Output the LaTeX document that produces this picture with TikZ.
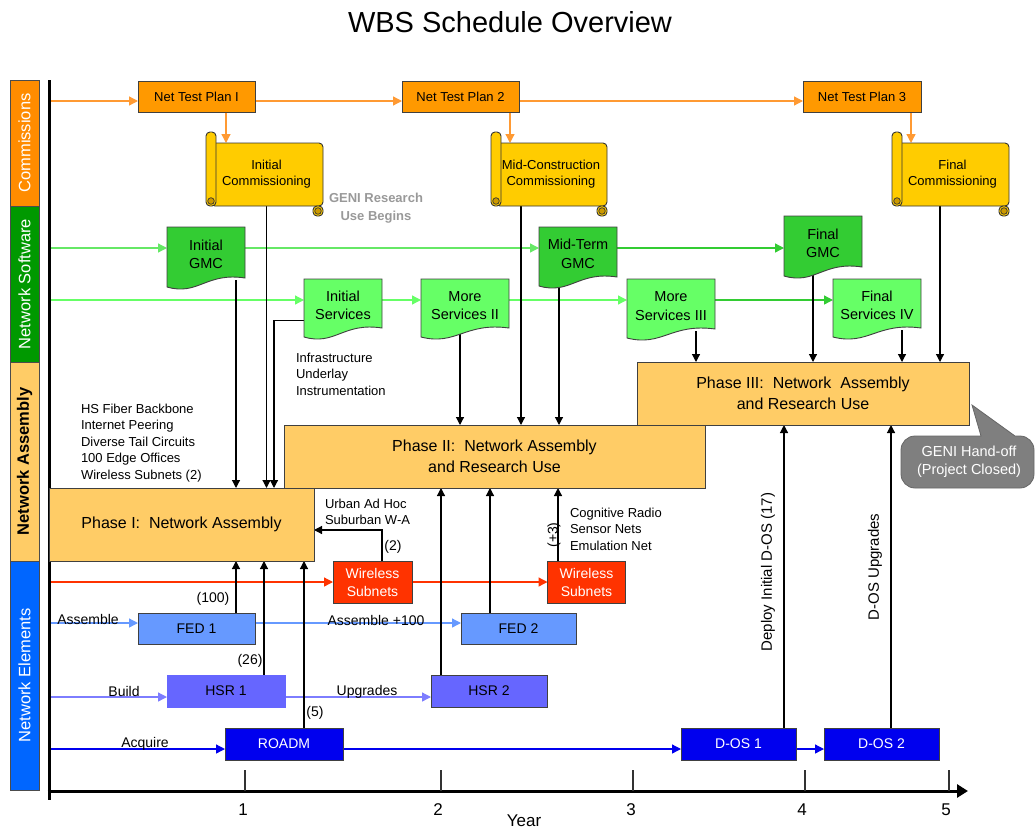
\documentclass[tikz,border=0pt]{standalone}
\usepackage{fontspec}
\setmainfont{Liberation Sans}
\usetikzlibrary{arrows.meta,backgrounds}
\definecolor{cNtp}{HTML}{FF9900}
\definecolor{cOrLine}{HTML}{FF9A33}
\definecolor{cScroll}{HTML}{FFCC00}
\definecolor{cCurl}{HTML}{CC9900}
\definecolor{cGmc}{HTML}{33CC33}
\definecolor{cSrv}{HTML}{66FF66}
\definecolor{cGLine}{HTML}{66E866}
\definecolor{cGLineD}{HTML}{33CC33}
\definecolor{cPhase}{HTML}{FFCC66}
\definecolor{cRed}{HTML}{FF3300}
\definecolor{cFed}{HTML}{6699FF}
\definecolor{cHsr}{HTML}{6666FF}
\definecolor{cRoadm}{HTML}{0000EE}
\definecolor{cLaneCom}{HTML}{FF8C00}
\definecolor{cLaneSw}{HTML}{009900}
\definecolor{cLaneEl}{HTML}{0066FF}
\definecolor{cGeni}{HTML}{7F7F7F}
\definecolor{cGray}{HTML}{999999}
\newcommand\fsz[2]{\fontsize{#1}{#2}\selectfont}
\tikzset{
  every node/.style={inner sep=0pt, outer sep=0pt},
  bx/.style={draw=black!75, line width=0.9pt, align=center},
  lane/.style={draw=black!70, line width=0.8pt, minimum height=29pt, font=\fsz{16.5}{20}},
  ntpbox/.style={bx, fill=cNtp, font=\fsz{13}{16}},
  phasebox/.style={bx, fill=cPhase, font=\fsz{16}{21}},
  docnode/.style={align=center, font=\fsz{14.5}{18.5}},
  scrollnode/.style={align=center, font=\fsz{13}{16}},
  elbox/.style={bx, font=\fsz{14}{18}},
  lbl/.style={font=\fsz{13}{16.5}, align=left},
  lblb/.style={font=\fsz{14}{17}},
  conn/.style={draw=black, line width=1.2pt, -{Triangle[length=8pt,width=8pt]}},
  oarrow/.style={draw=cOrLine, line width=1.3pt, -{Triangle[length=9pt,width=9pt]}},
  garrow/.style={draw=cGLine, line width=1.3pt, -{Triangle[length=9pt,width=9pt]}},
  gdarrow/.style={draw=cGLineD, line width=1.3pt, -{Triangle[length=9pt,width=9pt]}},
  sarrow/.style={draw=cSrv, line width=1.3pt, -{Triangle[length=9pt,width=9pt]}},
  rarrow/.style={draw=cRed, line width=1.3pt, -{Triangle[length=9pt,width=9pt]}},
  farrow/.style={draw=cFed, line width=1.3pt, -{Triangle[length=9pt,width=9pt]}},
  harrow/.style={draw=cHsr!85, line width=1.3pt, -{Triangle[length=9pt,width=9pt]}},
  aarrow/.style={draw=cRoadm, line width=1.3pt, -{Triangle[length=9pt,width=9pt]}},
  scrollsty/.style={fill=cScroll, draw=black!80, line width=0.9pt},
  curl/.style={fill=cCurl, draw=black!80, line width=0.7pt},
}
% document shape: name, x1, ytop, x2, ybottom, fill, text
\newcommand\docshape[7]{%
  \pgfmathsetmacro\dw{#4-#2}%
  \pgfmathsetmacro\dh{#5-#3}%
  \pgfmathsetmacro\ca{#2+0.5*\dw}%
  \pgfmathsetmacro\cb{#2+0.4*\dw}%
  \pgfmathsetmacro\cx{(#2+#4)/2}%
  \pgfmathsetmacro\cy{(#3+#5)/2+2}%
  \filldraw[fill=#6, draw=black!75, line width=0.9pt] (#2,#3) -- (#4,#3) -- (#4,#5)
    .. controls (\ca,#5-6) and (\cb,#5+18) .. (#2,#5+9) -- cycle;
  \node[docnode, minimum width=\dw pt, minimum height=\dh pt] (#1) at (\cx,\cy) {#7};
}
% scroll shape: name, x1, ytop, x2, ybottom, text
\newcommand\scrollshape[6]{%
  \pgfmathsetmacro\sw{#4-#2}%
  \pgfmathsetmacro\sh{#5-#3}%
  \pgfmathsetmacro\sx{(#2+#4)/2}%
  \pgfmathsetmacro\sy{(#3+#5)/2}%
  \filldraw[scrollsty, rounded corners=4pt] (#2+5,#3) rectangle (#4,#5);
  \filldraw[scrollsty, rounded corners=4pt] (#4-10,#5) rectangle (#4,#5+10);
  \filldraw[scrollsty, rounded corners=4pt] (#2,#3-11) rectangle (#2+10,#5);
  \filldraw[curl] (#2+5,#5-5) circle (3.3pt);
  \filldraw[curl] (#4-5,#5+5) circle (3.3pt);
  \node[scrollnode, minimum width=\sw pt, minimum height=\sh pt] (#1) at (\sx+2,\sy) {#6};
}
\begin{document}
\begin{tikzpicture}[x=1pt,y=-1pt]
\useasboundingbox (0,0) rectangle (1036,830);

% title
\node[font=\fsz{29}{34}] (title) at (510,22) {WBS Schedule Overview};

% lane labels
\node[lane, fill=cLaneCom, text=white, minimum width=126pt, rotate=90] (lcom) at (24.5,143) {Commissions};
\node[lane, fill=cLaneSw, text=white, minimum width=156pt, rotate=90] (lsw) at (24.5,284) {Network Software};
\node[lane, fill=cPhase, text=black, minimum width=199pt, rotate=90, font=\fsz{16.5}{20}\bfseries] (lasm) at (24.5,461.5) {Network Assembly};
\node[lane, fill=cLaneEl, text=white, minimum width=229pt, rotate=90] (lel) at (24.5,675.5) {Network Elements};

% axes
\draw[line width=3pt] (49,80) -- (49,800);
\draw[line width=3pt, -{Triangle[length=11pt,width=13pt]}] (47.5,791) -- (968,791);
\foreach \tx in {245,441,633,805,949} \draw[line width=1.2pt, black!80] (\tx,770) -- (\tx,791);
\node[font=\fsz{17}{20}] (y1) at (243,810) {1};
\node[font=\fsz{17}{20}] (y2) at (438,810) {2};
\node[font=\fsz{17}{20}] (y3) at (631,810) {3};
\node[font=\fsz{17}{20}] (y4) at (802,810) {4};
\node[font=\fsz{17}{20}] (y5) at (946,810) {5};
\node[font=\fsz{17}{20}] (year) at (524,821) {Year};

% commissions
\node[ntpbox, minimum width=117pt, minimum height=31pt] (ntp1) at (196.5,96.5) {Net Test Plan I};
\node[ntpbox, minimum width=117pt, minimum height=31pt] (ntp2) at (460.5,96.5) {Net Test Plan 2};
\node[ntpbox, minimum width=118pt, minimum height=31pt] (ntp3) at (862,96.5) {Net Test Plan 3};
\scrollshape{comm1}{206}{143}{323}{206}{Initial\\Commissioning}
\scrollshape{comm2}{491}{143}{607}{206}{Mid-Construction\\Commissioning}
\scrollshape{comm3}{892}{143}{1009}{206}{Final\\Commissioning}
\node[font=\fsz{13}{18}\bfseries, text=cGray, align=center] (geniuse) at (376,208) {GENI Research\\Use Begins};

% software
\docshape{gmc1}{167}{227}{245}{278}{cGmc}{Initial\\GMC}
\docshape{gmc2}{539}{227}{617}{277}{cGmc}{Mid-Term\\GMC}
\docshape{gmc3}{784}{216}{862}{267}{cGmc}{Final\\GMC}
\docshape{srv1}{304}{279}{382}{328}{cSrv}{Initial\\Services}
\docshape{srv2}{421}{279}{509}{328}{cSrv}{More\\Services II}
\docshape{srv3}{627}{279}{715}{329}{cSrv}{More\\Services III}
\docshape{srv4}{833}{279}{921}{328}{cSrv}{Final\\Services IV}

% phases
\node[phasebox, minimum width=421pt, minimum height=63pt] (ph2) at (494.5,456.5) {Phase II:\ \ Network Assembly\\and Research Use};
\node[phasebox, minimum width=265pt, minimum height=73pt] (ph1) at (181.5,524.5) {Phase I:\ \ Network Assembly};
\node[phasebox, minimum width=332pt, minimum height=63pt] (ph3) at (803,393.5) {Phase III:\ \ Network\ \ Assembly\\and Research Use};

% callout
\filldraw[fill=cGeni, draw=black!60, line width=0.8pt] (950,436) -- (981,436) -- (972,405) -- (1015,436)
  [rounded corners=14pt] -- (1034,436) -- (1034,488) -- (901,488) -- (901,436) -- (950,436);
\node[font=\fsz{14.5}{18}, text=white, align=center] (geni) at (969,462) {GENI Hand-off\\(Project Closed)};

% element boxes
\node[elbox, fill=cRed, text=white, minimum width=79pt, minimum height=42pt] (ws1) at (372.5,582) {Wireless\\Subnets};
\node[elbox, fill=cRed, text=white, minimum width=78pt, minimum height=42pt] (ws2) at (586.5,582) {Wireless\\Subnets};
\node[elbox, fill=cFed, minimum width=117pt, minimum height=31pt] (fed1) at (196.5,628.5) {FED 1};
\node[elbox, fill=cFed, minimum width=115pt, minimum height=31pt] (fed2) at (518.5,628.5) {FED 2};
\node[elbox, fill=cHsr, draw=cHsr, minimum width=118pt, minimum height=32pt] (hsr1) at (226,691) {HSR 1};
\node[elbox, fill=cHsr, minimum width=116pt, minimum height=32pt] (hsr2) at (489,691) {HSR 2};
\node[elbox, fill=cRoadm, text=white, minimum width=118pt, minimum height=32pt] (roadm) at (284,744) {ROADM};
\node[elbox, fill=cRoadm, text=white, minimum width=115pt, minimum height=32pt] (dos1) at (738.5,744) {D-OS 1};
\node[elbox, fill=cRoadm, text=white, minimum width=115pt, minimum height=32pt] (dos2) at (881.5,744) {D-OS 2};

% labels
\node[lbl, anchor=west] (hslist) at (81,443) {HS Fiber Backbone\\Internet Peering\\Diverse Tail Circuits\\100 Edge Offices\\Wireless Subnets (2)};
\node[lbl, anchor=west] (infra) at (296,374) {Infrastructure\\Underlay\\Instrumentation};
\node[lbl, anchor=west] (urban) at (325,512) {Urban Ad Hoc\\Suburban W-A};
\node[lbl, anchor=west] (cogn) at (570,529) {Cognitive Radio\\Sensor Nets\\Emulation Net};
\node[lblb] (l2) at (393,547) {(2)};
\node[lblb, rotate=90] (lp3) at (554,535) {(+3)};
\node[lblb] (l100) at (213,599) {(100)};
\node[lblb] (l26) at (250,661) {(26)};
\node[lblb] (l5) at (315,713) {(5)};
\node[lblb] (lassem) at (88,619) {Assemble};
\node[lblb] (lassem2) at (376,620) {Assemble +100};
\node[lblb] (lbuild) at (124,691) {Build};
\node[lblb] (lupg) at (367,692) {Upgrades};
\node[lblb] (lacq) at (145,744) {Acquire};
\node[font=\fsz{15}{18}, rotate=90] (ldep) at (768,572) {Deploy Initial D-OS (17)};
\node[font=\fsz{15}{18}, rotate=90] (lupg2) at (875,567) {D-OS Upgrades};

\begin{pgfonlayer}{background}
% row coordinates on the time bar
\coordinate (oc) at (49,101);
\coordinate (gc) at (49,248);
\coordinate (sc) at (49,300);
\coordinate (rc) at (49,582);
\coordinate (fc) at (49,623);
\coordinate (hc) at (49,697);
\coordinate (ac) at (49,749);
% commissions row
\draw[oarrow] (oc) -- (ntp1.west |- oc);
\draw[oarrow] (ntp1.east |- oc) -- (ntp2.west |- oc);
\draw[oarrow] (ntp2.east |- oc) -- (ntp3.west |- oc);
\draw[oarrow] ([xshift=29.5pt]ntp1.south) -- ([xshift=29.5pt]ntp1.south |- comm1.north);
\draw[oarrow] ([xshift=49.5pt]ntp2.south) -- ([xshift=49.5pt]ntp2.south |- comm2.north);
\draw[oarrow] ([xshift=49pt]ntp3.south) -- ([xshift=49pt]ntp3.south |- comm3.north);
% software rows
\draw[garrow] (gc) -- (gmc1.west |- gc);
\draw[garrow] (gmc1.east |- gc) -- (gmc2.west |- gc);
\draw[gdarrow] (gmc2.east |- gc) -- (gmc3.west |- gc);
\draw[sarrow] (sc) -- (srv1.west |- sc);
\draw[sarrow] (srv1.east |- sc) -- (srv2.west |- sc);
\draw[sarrow] (srv2.east |- sc) -- (srv3.west |- sc);
\draw[gdarrow] (srv3.east |- sc) -- (srv4.west |- sc);
% element rows
\draw[rarrow] (rc) -- (ws1.west |- rc);
\draw[rarrow] (ws1.east |- rc) -- (ws2.west |- rc);
\draw[farrow] (fc) -- (fed1.west |- fc);
\draw[farrow] (fed1.east |- fc) -- (fed2.west |- fc);
\draw[harrow] (hc) -- (hsr1.west |- hc);
\draw[harrow] (hsr1.east |- hc) -- (hsr2.west |- hc);
\draw[aarrow] (ac) -- (roadm.west |- ac);
\draw[aarrow] (roadm.east |- ac) -- (dos1.west |- ac);
\draw[aarrow] (dos1.east |- ac) -- (dos2.west |- ac);
% into Phase I
\draw[conn] ([xshift=30pt]gmc1.south) -- ([xshift=30pt]gmc1.south |- ph1.north);
\draw[conn] (comm1.south) -- (comm1.south |- ph1.north);
\draw[conn] ([yshift=-15pt]srv1.west) -| ([xshift=92.5pt]ph1.north);
\draw[conn] ([xshift=39.5pt]fed1.north) -- ([xshift=39.5pt]fed1.north |- ph1.south);
\draw[conn] ([xshift=38pt]hsr1.north) -- ([xshift=38pt]hsr1.north |- ph1.south);
\draw[conn] ([xshift=20pt]roadm.north) -- ([xshift=20pt]roadm.north |- ph1.south);
\draw[conn] ([xshift=9.5pt]ws1.north) |- ([yshift=-5.5pt]ph1.east);
% into Phase II
\draw[conn] ([xshift=-5pt]srv2.south) -- ([xshift=-5pt]srv2.south |- ph2.north);
\draw[conn] ([xshift=-30pt]comm2.south) -- ([xshift=-30pt]comm2.south |- ph2.north);
\draw[conn] ([xshift=-19pt]gmc2.south) -- ([xshift=-19pt]gmc2.south |- ph2.north);
\draw[conn] ([xshift=-48pt]hsr2.north) -- ([xshift=-48pt]hsr2.north |- ph2.south);
\draw[conn] ([xshift=-28.5pt]fed2.north) -- ([xshift=-28.5pt]fed2.north |- ph2.south);
\draw[conn] ([xshift=-28.5pt]ws2.north) -- ([xshift=-28.5pt]ws2.north |- ph2.south);
% into Phase III
\draw[conn] ([xshift=25pt]srv3.south) -- ([xshift=25pt]srv3.south |- ph3.north);
\draw[conn] ([xshift=-10pt]gmc3.south) -- ([xshift=-10pt]gmc3.south |- ph3.north);
\draw[conn] ([xshift=25pt]srv4.south) -- ([xshift=25pt]srv4.south |- ph3.north);
\draw[conn] ([xshift=-12.5pt]comm3.south) -- ([xshift=-12.5pt]comm3.south |- ph3.north);
\draw[conn] ([xshift=45.5pt]dos1.north) -- ([xshift=45.5pt]dos1.north |- ph3.south);
\draw[conn] ([xshift=9.5pt]dos2.north) -- ([xshift=9.5pt]dos2.north |- ph3.south);
\end{pgfonlayer}
\end{tikzpicture}
\end{document}
